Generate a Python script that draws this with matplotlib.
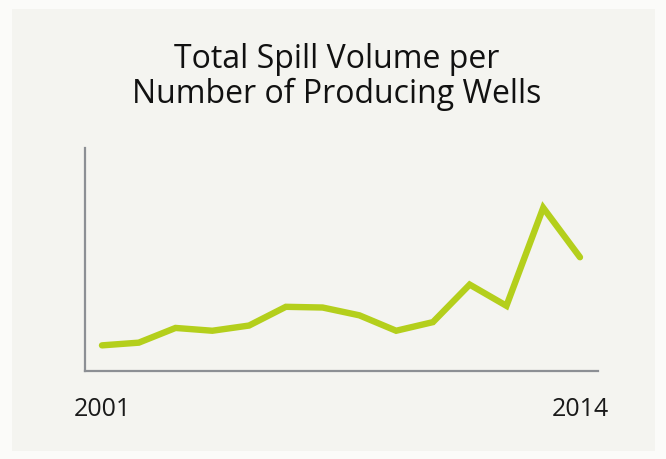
import matplotlib
matplotlib.use("Agg")
import matplotlib.pyplot as plt
from matplotlib.patches import Rectangle

years = list(range(2001, 2015))
spill_per_well = [25.6, 28.3, 43.0, 40.2, 45.4, 64.1, 63.4, 55.6, 40.2, 48.8, 86.3, 65.1, 163.0, 113.6]
tick_years = [2001, 2014]
tick_labels = ["2001", "2014"]
title = "Total Spill Volume per\nNumber of Producing Wells"

W, H = 666, 459
fig = plt.figure(figsize=(W / 100, H / 100), dpi=100)
fig.patch.set_facecolor("#fbfbf9")
fig.patches.append(Rectangle((12 / W, 8 / H), (655 - 12) / W, (450 - 8) / H,
                             transform=fig.transFigure, facecolor="#f4f4f0",
                             edgecolor="none", zorder=-10))

ax = fig.add_axes([85 / W, (H - 371) / H, (598 - 85) / W, (371 - 148) / H])
ax.set_facecolor("none")
ax.plot(years, spill_per_well, color="#b4cf1c", lw=4.6, solid_capstyle="round",
        solid_joinstyle="miter")
ax.set_xlim(2001 - 0.462, 2014 + 0.49)
ax.set_ylim(0, 222.7)
for s in ["top", "right"]:
    ax.spines[s].set_visible(False)
for s in ["left", "bottom"]:
    ax.spines[s].set_color("#8c8f94")
    ax.spines[s].set_linewidth(1.6)
ax.set_yticks([])
ax.set_xticks(tick_years)
ax.set_xticklabels(tick_labels, fontsize=18, family="Open Sans", color="#1a1a1a")
ax.tick_params(axis="x", length=0, pad=19)

fig.text(337 / W, 1 - 77 / H, title, ha="center", va="center", fontsize=23,
         family="Open Sans", color="#111111", linespacing=1.08)

fig.savefig("out.png", dpi=100, facecolor=fig.get_facecolor())
